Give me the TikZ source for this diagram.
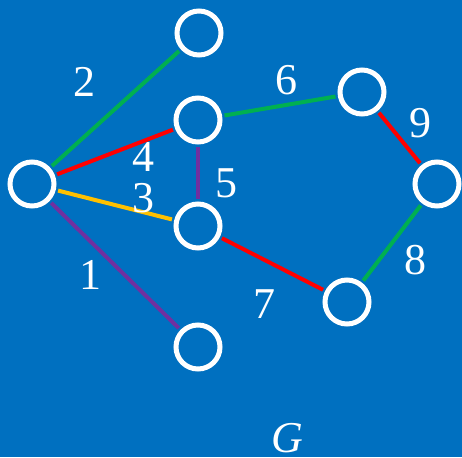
\documentclass[tikz,border=0pt]{standalone}
\usepackage{fontspec}
\setmainfont{Liberation Serif}
\definecolor{bgblue}{HTML}{0070C0}
\definecolor{egreen}{HTML}{00B050}
\definecolor{ered}{HTML}{FF0000}
\definecolor{eyellow}{HTML}{FFC000}
\definecolor{epurple}{HTML}{7030A0}
\begin{document}
\begin{tikzpicture}[x=0.5pt, y=-0.5pt,
		vertex/.style={circle, draw=white, line width=2.5pt, minimum size=22pt, inner sep=0pt, fill=bgblue},
		edge/.style={line width=2pt, shorten <=1.2pt, shorten >=1.2pt},
		weight/.style={text=white, inner sep=0pt, font=\fontsize{22}{22}\selectfont}]
	% === NEN ===
	\fill[bgblue] (0,0) rectangle (462,457);
	\useasboundingbox (0,0) rectangle (462,457);

	% === DINH ===
	\node[vertex] (vL) at (32,184) {};
	\node[vertex] (vT) at (199,33) {};
	\node[vertex] (vB) at (198,120) {};
	\node[vertex] (vC) at (198,226) {};
	\node[vertex] (vD) at (198,347) {};
	\node[vertex] (vE) at (362,92) {};
	\node[vertex] (vF) at (437,184) {};
	\node[vertex] (vG) at (347,302) {};

	% === CANH ===
	\draw[edge, egreen] (vL) -- (vT);
	\draw[edge, ered] (vL) -- (vB);
	\draw[edge, eyellow] (vL) -- (vC);
	\draw[edge, epurple] (vL) -- (vD);
	\draw[edge, epurple] (vB) -- (vC);
	\draw[edge, egreen] (vB) -- (vE);
	\draw[edge, ered] (vE) -- (vF);
	\draw[edge, egreen] (vF) -- (vG);
	\draw[edge, ered] (vC) -- (vG);

	% === TRONG SO ===
	\node[weight] (w1) at (90,275) {1};
	\node[weight] (w2) at (85,82) {2};
	\node[weight] (w3) at (144,198) {3};
	\node[weight] (w4) at (144,157) {4};
	\node[weight] (w5) at (226,183) {5};
	\node[weight] (w6) at (287,80) {6};
	\node[weight] (w7) at (265,304) {7};
	\node[weight] (w8) at (415,260) {8};
	\node[weight] (w9) at (420,123) {9};
	\node[weight] (lblG) at (287,438) {\itshape G};
\end{tikzpicture}
\end{document}
